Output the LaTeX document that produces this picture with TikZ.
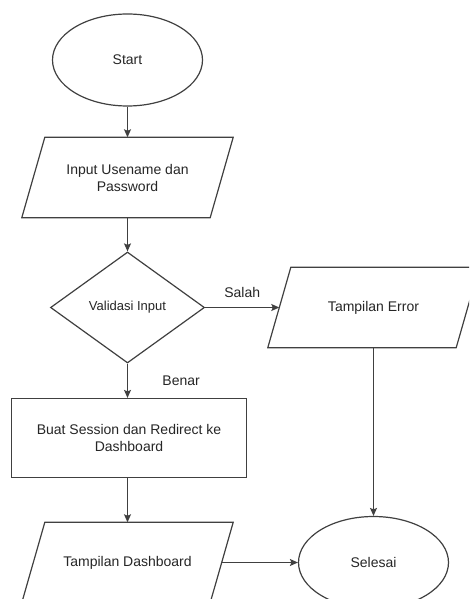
\documentclass[tikz,border=0pt]{standalone}
\usepackage{fontspec}
\setmainfont{Liberation Sans}
\usetikzlibrary{calc, positioning, shapes.geometric, arrows.meta}

\newcommand\slantbox[1]{%
  \draw[flow] ($(#1.south west)+(-11.5,0)$) -- ($(#1.north west)+(11.5,0)$)
    -- ($(#1.north east)+(11.5,0)$) -- ($(#1.south east)+(-11.5,0)$) -- cycle;}

\begin{document}
\begin{tikzpicture}[x=1pt, y=-1pt,
  every node/.style={font=\fontsize{14}{17}\selectfont, text=black!85},
  flow/.style={draw=black!75, line width=1.2pt},
  terminal/.style={flow, ellipse, minimum width=150pt, minimum height=92pt},
  io/.style={rectangle, minimum width=188pt, minimum height=80pt, align=center},
  process/.style={flow, rectangle, minimum width=235pt, minimum height=79pt, align=center},
  decision/.style={flow, diamond, minimum width=154pt, minimum height=111pt},
  link/.style={draw=black!75, line width=1.2pt, -{Stealth[length=8pt,width=7pt,inset=1.5pt]}}]

 \fill[white] (0,0) rectangle (469,599);
 \clip (0,0) rectangle (469,599);

 \node[terminal] (start) at (127.5,60) {Start};
 \node[io] (input) at (127.5,177.5) {Input Usename dan\\Password};
 \node[decision] (check) at (127.5,307.5) {\fontsize{13}{16}\selectfont Validasi Input};
 \node[process] (session) at (129,438) {Buat Session dan Redirect ke\\Dashboard};
 \node[io] (dash) at (127.5,562.5) {Tampilan Dashboard};
 \node[io] (error) at (373.5,307.5) {Tampilan Error};
 \node[terminal] (done) at (373.5,562.5) {Selesai};

 \slantbox{input}
 \slantbox{dash}
 \slantbox{error}

 \draw[link] (start) -- (input);
 \draw[link] (input) -- (check);
 \draw[link] (check) -- node[right=31pt] {Benar} (check.south |- session.north);
 \draw[link] (check) -- node[above=6pt] {Salah} (error);
 \draw[link] (session.south -| dash.north) -- (dash);
 \draw[link] (dash) -- (done);
 \draw[link] (error) -- (done);
\end{tikzpicture}
\end{document}
